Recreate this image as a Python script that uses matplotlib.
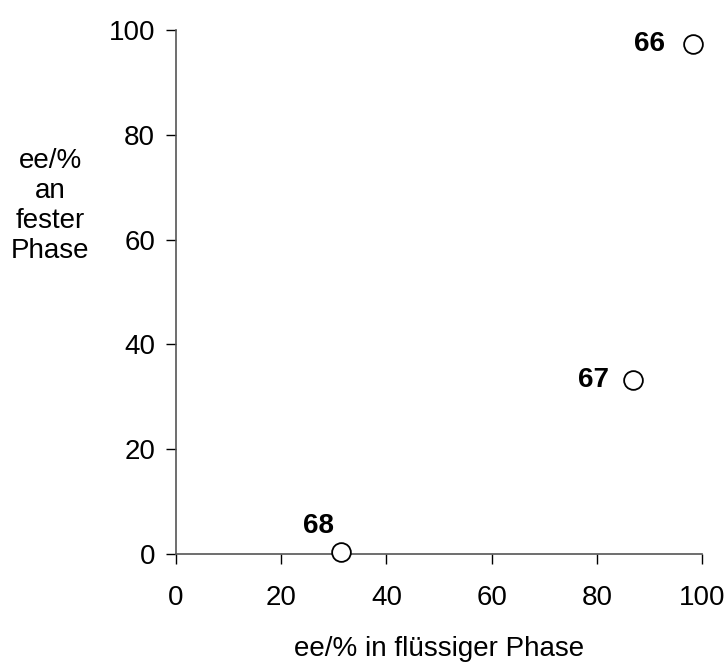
import matplotlib
matplotlib.use("Agg")
import matplotlib.pyplot as plt

plt.rcParams['font.family'] = ['Liberation Sans', 'DejaVu Sans']

# data
x_liquid = [98.2, 86.8, 31.3]
y_solid = [97.3, 33.2, 0.4]
labels = ["66", "67", "68"]
ticks = [0, 20, 40, 60, 80, 100]

fig = plt.figure(figsize=(7.26, 6.62), dpi=100)
ax = fig.add_axes([0.2424, 0.1631, 0.7245, 0.7916])

ax.plot(x_liquid, y_solid, linestyle="none", marker="o", markersize=13.5,
        markerfacecolor="white", markeredgecolor="black", markeredgewidth=1.3,
        clip_on=False, zorder=3)

# labels next to points (offsets in points)
offsets = [(-20, 0, "right", "center"), (-17, 0, "right", "center"),
           (-5, 9, "right", "bottom")]
for xv, yv, lab, (dx, dy, ha, va) in zip(x_liquid, y_solid, labels, offsets):
    ax.annotate(lab, (xv, yv), xytext=(dx, dy), textcoords="offset points",
                ha=ha, va=va, fontsize=20, fontweight="bold")

ax.set_xlim(0, 100)
ax.set_ylim(0, 100)
ax.set_xticks(ticks)
ax.set_yticks(ticks)
ax.tick_params(direction="out", length=7, width=1, labelsize=20)
ax.tick_params(axis="x", pad=15)
ax.tick_params(axis="y", pad=8)
ax.spines["top"].set_visible(False)
ax.spines["right"].set_visible(False)
for side in ("left", "bottom"):
    ax.spines[side].set_color("#555555")
    ax.spines[side].set_linewidth(1.2)

ax.set_xlabel("ee/% in flüssiger Phase", fontsize=20)
ax.xaxis.set_label_coords(0.5, -0.156)
ax.set_ylabel("ee/%\nan\nfester\nPhase", fontsize=20, rotation=0,
              ha="center", va="center", linespacing=1.2)
ax.yaxis.set_label_coords(-0.239, 0.664)

fig.savefig("out.png", dpi=100)
